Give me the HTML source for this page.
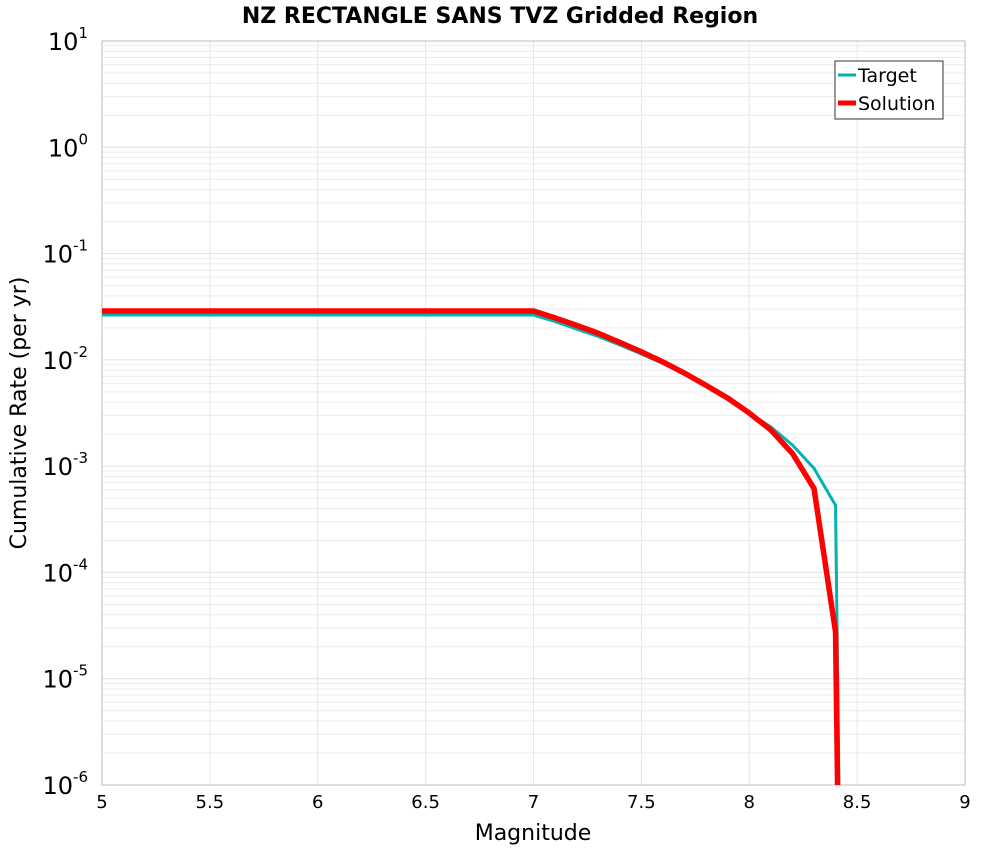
<!DOCTYPE html>
<html><head><meta charset="utf-8"><style>
html,body{margin:0;padding:0;background:#fff;overflow:hidden;width:1000px;height:850px;font-family:"Liberation Sans","DejaVu Sans",sans-serif}
svg{display:block}
</style></head><body>
<svg id="chart" width="1000" height="850" xmlns="http://www.w3.org/2000/svg">
<text x="500" y="23" text-anchor="middle" font-size="22" font-weight="bold" font-family="DejaVu Sans, sans-serif">NZ RECTANGLE SANS TVZ Gridded Region</text>
<g id="grid"></g>
<g id="axes"></g>
<g id="series" clip-path="url(#clip)"></g>
<defs><clipPath id="clip"><rect x="102" y="41" width="863" height="744"/></clipPath></defs>
<text x="533" y="840" text-anchor="middle" font-size="22" font-family="DejaVu Sans, sans-serif">Magnitude</text>
<text transform="translate(26,413) rotate(-90)" text-anchor="middle" font-size="22" font-family="DejaVu Sans, sans-serif">Cumulative Rate (per yr)</text>
<g>
<rect x="835" y="61" width="108" height="58" fill="#fff" stroke="#333" stroke-width="1"/>
<line x1="838" y1="75" x2="856" y2="75" stroke="#00b4b4" stroke-width="3"/>
<text x="858" y="82" font-size="19" font-family="DejaVu Sans, sans-serif">Target</text>
<line x1="838" y1="103" x2="856" y2="103" stroke="#ff0000" stroke-width="5"/>
<text x="858" y="110" font-size="19" font-family="DejaVu Sans, sans-serif">Solution</text>
</g>
</svg>
<script>
const magnitudes=[5.0,7.0,7.1,7.2,7.3,7.4,7.5,7.6,7.7,7.8,7.9,8.0,8.1,8.2,8.3,8.4,8.5];
const targetRates=[0.0264,0.0264,0.0229,0.0195,0.0166,0.0138,0.01135,0.00923,0.00733,0.00569,0.00432,0.00316,0.00234,0.00158,0.000955,0.000427,1e-40];
const solutionRates=[0.0288,0.0288,0.0248,0.0211,0.0178,0.0146,0.0119,0.00955,0.0075,0.00575,0.00437,0.00316,0.00219,0.00132,0.000617,0.0000275,1e-40];
const xTicks=[5,5.5,6,6.5,7,7.5,8,8.5,9];
const yExps=[1,0,-1,-2,-3,-4,-5,-6];
const X0=102,X1=965,Y0=41,Y1=785,xmin=5,xmax=9,ymaxE=1,yminE=-6;
const xs=v=>X0+(v-xmin)/(xmax-xmin)*(X1-X0);
const ys=v=>{let l=Math.log10(v);if(l<-20)l=-20;return Y0+(ymaxE-l)/(ymaxE-yminE)*(Y1-Y0);};
const NS="http://www.w3.org/2000/svg";
function mk(tag,attrs,parent){const e=document.createElementNS(NS,tag);for(const k in attrs)e.setAttribute(k,attrs[k]);parent.appendChild(e);return e;}
const grid=document.getElementById('grid'),axes=document.getElementById('axes'),series=document.getElementById('series');
for(let e=yminE;e<ymaxE;e++){for(let m=1;m<10;m++){const y=ys(m*Math.pow(10,e));const l=mk('line',{x1:X0,x2:X1,y1:y,y2:y,stroke:m===1?'#e2e2e2':'#ececec','stroke-width':1},grid);

}}
xTicks.forEach(t=>{const x=xs(t);const l=mk('line',{x1:x,x2:x,y1:Y0,y2:Y1,stroke:'#e6e6e6','stroke-width':1},grid);


const tx=mk('text',{x:x,y:808,'text-anchor':'middle','font-size':18,'font-family':'DejaVu Sans, sans-serif'},axes);


tx.textContent=String(t);});
yExps.forEach(e=>{const y=ys(Math.pow(10,e));const tx=mk('text',{x:88,y:y+9,'text-anchor':'end','font-size':24,'font-family':'DejaVu Sans, sans-serif'},axes);


tx.innerHTML='10<tspan font-size="15" dy="-12">'+e+'</tspan>';});
const fr=mk('rect',{x:X0,y:Y0,width:X1-X0,height:Y1-Y0,fill:'none',stroke:'#bbb','stroke-width':1},axes);


function line(vals,color,w,name){const d=magnitudes.map((m,i)=>(i?'L':'M')+xs(m).toFixed(2)+','+ys(vals[i]).toFixed(2)).join('');
const p=mk('path',{d:d,fill:'none',stroke:color,'stroke-width':w,'stroke-linejoin':'round'},series);

}
line(targetRates,'#00b4b4',3,'target-line');
line(solutionRates,'#ff0000',5.5,'solution-line');
</script>
</body></html>
